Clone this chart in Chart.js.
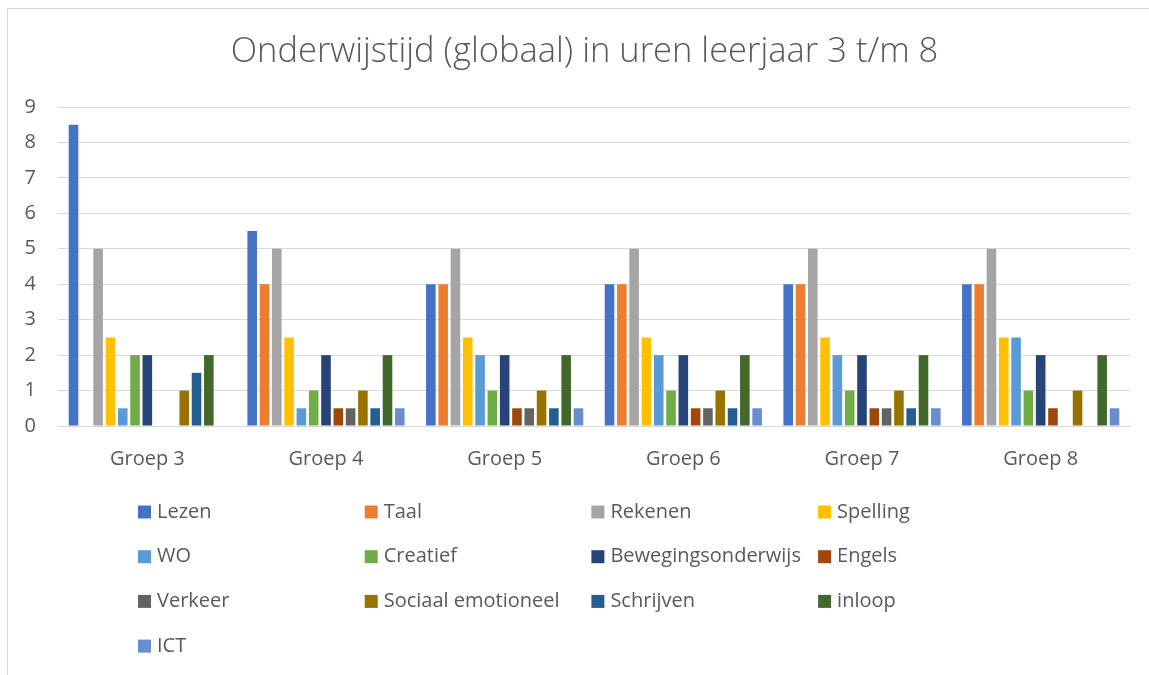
<!DOCTYPE html>
<html>
<head>
<meta charset="utf-8">
<script src="https://cdn.jsdelivr.net/npm/chart.js@4/dist/chart.umd.min.js"></script>
<style>
    html, body { margin: 0; padding: 0; background: #fff; }
    #wrap { position: relative; width: 1149px; height: 675px; }
    #frame { position: absolute; left: 7px; top: 8px; width: 1150px; height: 680px; border-left: 1px solid #d9d9d9; border-top: 1px solid #d9d9d9; }
    canvas { position: absolute; left: 0; top: 0; }
</style>
</head>
<body>
<div id="wrap">
    <div id="frame"></div>
    <canvas id="chart" width="1149" height="675"></canvas>
</div>
<script>
const chartTitle = 'Onderwijstijd (globaal) in uren leerjaar 3 t/m 8';
const groups = ['Groep 3', 'Groep 4', 'Groep 5', 'Groep 6', 'Groep 7', 'Groep 8'];
const yTicks = [0, 1, 2, 3, 4, 5, 6, 7, 8, 9];

const lezen     = [8.5, 5.5, 4, 4, 4, 4];
const taal      = [0, 4, 4, 4, 4, 4];
const rekenen   = [5, 5, 5, 5, 5, 5];
const spelling  = [2.5, 2.5, 2.5, 2.5, 2.5, 2.5];
const wo        = [0.5, 0.5, 2, 2, 2, 2.5];
const creatief  = [2, 1, 1, 1, 1, 1];
const beweging  = [2, 2, 2, 2, 2, 2];
const engels    = [0, 0.5, 0.5, 0.5, 0.5, 0.5];
const verkeer   = [0, 0.5, 0.5, 0.5, 0.5, 0];
const sociaal   = [1, 1, 1, 1, 1, 1];
const schrijven = [1.5, 0.5, 0.5, 0.5, 0.5, 0];
const inloop    = [2, 2, 2, 2, 2, 2];
const ict       = [0, 0.5, 0.5, 0.5, 0.5, 0.5];

const font = "'Open Sans', 'Noto Sans', sans-serif";
const textColor = '#595959';

function ds(label, data, color){
    return { label: label, data: data, backgroundColor: color, borderWidth: 0 };
}

// title centred on the whole frame, and a 4-column grid legend like the Excel one
const excelDecor = {
    id: 'excelDecor',
    afterDraw(chart){
        const ctx = chart.ctx;
        ctx.save();
        ctx.fillStyle = textColor;
        ctx.textAlign = 'center';
        ctx.textBaseline = 'middle';
        ctx.font = '300 34.5px ' + font;
        ctx.fillText(chartTitle, 584.5, 52);

        ctx.textAlign = 'left';
        ctx.font = '20px ' + font;
        chart.data.datasets.forEach((d, i) => {
            let col = i % 4, row = Math.floor(i / 4);
            let x = 138 + col * 226.7;
            let y = 512 + row * 44.7;
            ctx.fillStyle = d.backgroundColor;
            ctx.fillRect(x, y - 6.5, 13, 13);
            ctx.fillStyle = textColor;
            ctx.fillText(d.label, x + 19, y);
        });
        ctx.restore();
    }
};

new Chart(document.getElementById('chart'), {
    type: 'bar',
    data: {
        labels: groups,
        datasets: [
            ds('Lezen', lezen, '#4472C4'),
            ds('Taal', taal, '#ED7D31'),
            ds('Rekenen', rekenen, '#A5A5A5'),
            ds('Spelling', spelling, '#FFC000'),
            ds('WO', wo, '#5B9BD5'),
            ds('Creatief', creatief, '#70AD47'),
            ds('Bewegingsonderwijs', beweging, '#264478'),
            ds('Engels', engels, '#9E480E'),
            ds('Verkeer', verkeer, '#636363'),
            ds('Sociaal emotioneel', sociaal, '#997300'),
            ds('Schrijven', schrijven, '#255E91'),
            ds('inloop', inloop, '#43682B'),
            ds('ICT', ict, '#698ED0')
        ]
    },
    options: {
        responsive: false,
        animation: false,
        devicePixelRatio: 1,
        categoryPercentage: 0.895,
        barPercentage: 0.78,
        layout: { padding: { left: 0, right: 19, top: 107, bottom: 204 } },
        plugins: {
            legend: { display: false },
            tooltip: { enabled: false },
            title: { display: false }
        },
        scales: {
            x: {
                afterFit: (axis) => { axis.height = 45; },
                grid: { display: false, drawTicks: false },
                border: { display: true, color: '#d9d9d9', width: 1 },
                ticks: { color: textColor, font: { family: font, size: 20 }, padding: 21, maxRotation: 0 }
            },
            y: {
                min: 0,
                max: 9,
                afterBuildTicks: (axis) => { axis.ticks = yTicks.map(v => ({ value: v })); },
                afterFit: (axis) => { axis.width = 58; },
                grid: { color: '#d9d9d9', drawTicks: false },
                border: { display: false },
                ticks: { color: textColor, font: { family: font, size: 20 }, padding: 22, align: 'center' }
            }
        }
    },
    plugins: [excelDecor]
});
</script>
</body>
</html>
